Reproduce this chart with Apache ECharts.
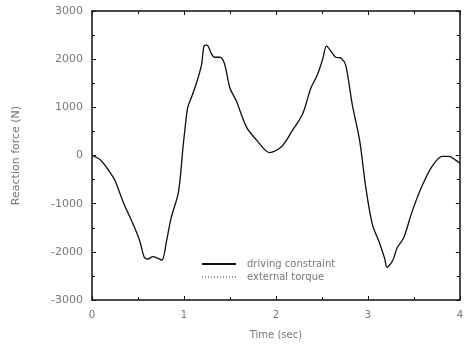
<!DOCTYPE html>
<html>
<head>
<meta charset="utf-8">
<script src="https://cdn.jsdelivr.net/npm/echarts@6/dist/echarts.min.js"></script>
<style>html,body{margin:0;padding:0;background:#fff;}</style>
</head>
<body>
<div id="main" style="width:466px;height:345px"></div>
<script type="text/javascript">
    // time (sec) and reaction force (N)
    var times = [0, 0.09, 0.2, 0.25, 0.34, 0.45, 0.52, 0.57, 0.61, 0.66, 0.7, 0.76, 0.81, 0.86, 0.94, 0.99,
        1.01, 1.04, 1.08, 1.13, 1.19, 1.22, 1.25, 1.3, 1.33, 1.39, 1.44, 1.5, 1.57, 1.68, 1.79, 1.93,
        2.06, 2.18, 2.29, 2.38, 2.45, 2.51, 2.55, 2.62, 2.65, 2.71, 2.76, 2.83, 2.91, 2.98,
        3.05, 3.12, 3.18, 3.21, 3.27, 3.32, 3.39, 3.48, 3.59, 3.7, 3.81, 3.88, 3.95, 4.0];
    var drivingForce = [0, -90, -360, -520, -970, -1440, -1780, -2120, -2150, -2100, -2120, -2170, -1780, -1300, -760, 180,
        530, 990, 1200, 1470, 1870, 2280, 2290, 2110, 2040, 2040, 1910, 1400, 1130, 590, 320, 60,
        180, 520, 860, 1400, 1670, 2010, 2270, 2110, 2040, 2020, 1870, 1060, 320, -700,
        -1440, -1780, -2120, -2320, -2180, -1910, -1710, -1170, -630, -220, -20, -20, -90, -160];
    // the external torque curve lies on top of the driving constraint one
    var externalForce = drivingForce;
    var yTicks = [-3000, -2000, -1000, 0, 1000, 2000, 3000];
    var xTicks = [0, 1, 2, 3, 4];

    function pairs(xs, ys) {
        return xs.map(function (x, i) { return [x, ys[i]]; });
    }

    var myChart = echarts.init(document.getElementById('main'));
    var txt = '#777';
    var frame = { show: true, onZero: false, lineStyle: { color: '#111', width: 1.5 } };
    var tick = { inside: true, length: 4, lineStyle: { color: '#111' } };
    var minor = { show: true, splitNumber: 2, length: 3, lineStyle: { color: '#111' } };

    var option = {
        animation: false,
        textStyle: { fontFamily: 'DejaVu Sans' },
        grid: { left: 92, right: 5, top: 11, bottom: 39 },
        legend: {
            orient: 'vertical',
            left: 196, top: 254,
            itemWidth: 34, itemHeight: 8, itemGap: 3,
            itemStyle: { opacity: 0 },
            textStyle: { color: txt, fontSize: 10, padding: [0, 0, 0, 6] },
            data: ['driving constraint', 'external torque']
        },
        xAxis: [{
            type: 'value', min: 0, max: 4, interval: 1,
            name: 'Time (sec)', nameLocation: 'middle', nameGap: 30,
            nameTextStyle: { color: txt, fontSize: 10 },
            axisLine: frame, axisTick: tick, minorTick: minor,
            axisLabel: { color: txt, fontSize: 10, margin: 10,
                formatter: function (v) { return xTicks.indexOf(v) >= 0 ? String(v) : ''; } },
            splitLine: { show: false }
        }, {
            type: 'value', min: 0, max: 4, interval: 1, position: 'top',
            axisLine: frame, axisTick: tick, minorTick: minor,
            axisLabel: { show: false },
            splitLine: { show: false }
        }],
        yAxis: [{
            type: 'value', min: -3000, max: 3000, interval: 1000,
            name: 'Reaction force (N)', nameLocation: 'middle', nameGap: 70,
            nameTextStyle: { color: txt, fontSize: 11 },
            axisLine: frame, axisTick: tick, minorTick: minor,
            axisLabel: { color: txt, fontSize: 11, margin: 9,
                formatter: function (v) { return yTicks.indexOf(v) >= 0 ? String(v) : ''; } },
            splitLine: { show: false }
        }, {
            type: 'value', min: -3000, max: 3000, interval: 1000, position: 'right',
            axisLine: frame, axisTick: tick, minorTick: minor,
            axisLabel: { show: false },
            splitLine: { show: false }
        }],
        series: [{
            name: 'external torque',
            type: 'line',
            symbol: 'none',
            smooth: 0.3,
            lineStyle: { color: '#999', width: 1, type: [1, 2] },
            itemStyle: { color: '#999' },
            data: pairs(times, externalForce)
        }, {
            name: 'driving constraint',
            type: 'line',
            symbol: 'none',
            smooth: 0.3,
            lineStyle: { color: '#111', width: 1.3 },
            itemStyle: { color: '#111' },
            data: pairs(times, drivingForce)
        }]
    };

    myChart.setOption(option);
</script>
</body>
</html>
